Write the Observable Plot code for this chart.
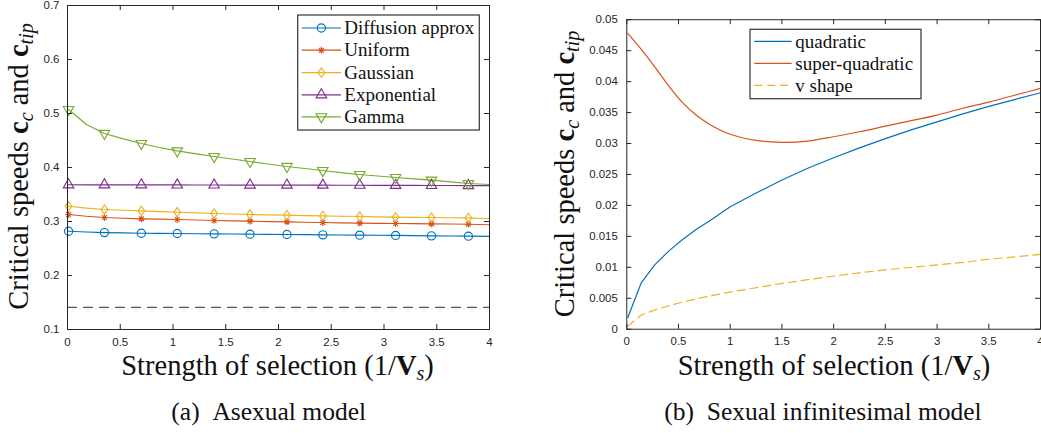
<!DOCTYPE html>
<html>
<head>
<meta charset="utf-8">
<script src="https://cdn.jsdelivr.net/npm/d3@7"></script>
<script src="https://cdn.jsdelivr.net/npm/@observablehq/plot@0.6"></script>
<style>
  html, body { margin: 0; padding: 0; background: #fff; overflow: hidden; }
  #fig { position: relative; width: 1041px; height: 433px; overflow: hidden; background: #fff; }
  .panel { position: absolute; top: 0; }
  .panel svg { overflow: visible; background: transparent; }
  #overlay { position: absolute; left: 0; top: 0; pointer-events: none; overflow: visible; }
</style>
</head>
<body>
<div id="fig"></div>
<script>
// ---------- Panel (a): asexual model ----------
const xTicks = [0, 0.5, 1, 1.5, 2, 2.5, 3, 3.5, 4];
const yTicksA = [0.1, 0.2, 0.3, 0.4, 0.5, 0.6, 0.7];

// strength of selection grid (markers sit on every other point)
const xsA = [0.01, 0.18, 0.35, 0.53, 0.70, 0.87, 1.04, 1.22, 1.39, 1.56, 1.73, 1.90,
             2.08, 2.25, 2.42, 2.59, 2.77, 2.94, 3.11, 3.28, 3.45, 3.63, 3.80, 4.00];

const diffusion = [0.2820, 0.2806, 0.2795, 0.2789, 0.2783, 0.2780, 0.2777, 0.2774, 0.2771, 0.2768,
                   0.2765, 0.2762, 0.2759, 0.2756, 0.2753, 0.2750, 0.2747, 0.2745, 0.2742, 0.2738,
                   0.2734, 0.2731, 0.2728, 0.2725];
const uniform = [0.3130, 0.3098, 0.3074, 0.3060, 0.3049, 0.3043, 0.3037, 0.3028, 0.3019, 0.3012,
                 0.3006, 0.2999, 0.2993, 0.2987, 0.2981, 0.2975, 0.2969, 0.2966, 0.2963, 0.2960,
                 0.2956, 0.2953, 0.2950, 0.2940];
const gaussian = [0.3283, 0.3248, 0.3222, 0.3209, 0.3196, 0.3184, 0.3172, 0.3160, 0.3148, 0.3139,
                  0.3130, 0.3123, 0.3117, 0.3110, 0.3104, 0.3098, 0.3093, 0.3086, 0.3080, 0.3077,
                  0.3074, 0.3070, 0.3067, 0.3050];
const exponential = [0.3680, 0.3679, 0.3679, 0.3678, 0.3678, 0.3677, 0.3677, 0.3676, 0.3676, 0.3675,
                     0.3675, 0.3674, 0.3674, 0.3673, 0.3673, 0.3672, 0.3671, 0.3670, 0.3669, 0.3668,
                     0.3667, 0.3666, 0.3665, 0.3664];
const gamma = [0.5074, 0.4796, 0.4630, 0.4530, 0.4444, 0.4370, 0.4307, 0.4253, 0.4204, 0.4157,
               0.4111, 0.4064, 0.4019, 0.3981, 0.3944, 0.3906, 0.3870, 0.3842, 0.3815, 0.3790,
               0.3765, 0.3735, 0.3704, 0.3685];
const thresholdA = 0.141;

// marker shapes: eight-armed asterisk and a narrow diamond
const asterisk8 = {
  draw(ctx, size) {
    const r = Math.sqrt(size / Math.PI), d = r * Math.SQRT1_2;
    ctx.moveTo(-r, 0); ctx.lineTo(r, 0);
    ctx.moveTo(0, -r); ctx.lineTo(0, r);
    ctx.moveTo(-d, -d); ctx.lineTo(d, d);
    ctx.moveTo(-d, d); ctx.lineTo(d, -d);
  }
};
const diamondTall = {
  draw(ctx, size) {
    const r = Math.sqrt(size / Math.PI), w = r * 0.78, h = r * 1.08;
    ctx.moveTo(0, -h); ctx.lineTo(w, 0); ctx.lineTo(0, h); ctx.lineTo(-w, 0); ctx.closePath();
  }
};

const seriesA = [
  {name: "Diffusion approx", values: diffusion,   color: "#0072BD", symbol: d3.symbolCircle,   rotate: 0,   r: 4.1},
  {name: "Uniform",          values: uniform,     color: "#D95319", symbol: asterisk8,        rotate: 0,   r: 3.4},
  {name: "Gaussian",         values: gaussian,    color: "#EDB120", symbol: diamondTall,      rotate: 0,   r: 4.3},
  {name: "Exponential",      values: exponential, color: "#7E2F8E", symbol: d3.symbolTriangle, rotate: 0,   r: 3.9},
  {name: "Gamma",            values: gamma,       color: "#77AC30", symbol: d3.symbolTriangle, rotate: 180, r: 3.9}
];

// ---------- Panel (b): sexual infinitesimal model ----------
const yTicksB = [0, 0.005, 0.01, 0.015, 0.02, 0.025, 0.03, 0.035, 0.04, 0.045, 0.05];
const xsB = [0.01, 0.14, 0.27, 0.41, 0.54, 0.67, 0.81, 1.00, 1.25, 1.50,
             1.75, 2.00, 2.25, 2.50, 2.75, 3.00, 3.25, 3.50, 3.75, 4.00];
const quadratic = [0.0019, 0.0075, 0.0104, 0.0127, 0.0145, 0.0161, 0.0176, 0.0198, 0.0220, 0.0241,
                   0.0260, 0.0277, 0.0293, 0.0308, 0.0322, 0.0335, 0.0348, 0.0360, 0.0371, 0.0382];
const superQuadratic = [0.0478, 0.0452, 0.0424, 0.0392, 0.0366, 0.0346, 0.0330, 0.0315, 0.0305, 0.0302,
                        0.0304, 0.0311, 0.0319, 0.0328, 0.0337, 0.0346, 0.0357, 0.0367, 0.0378, 0.0389];
const vShape = [0.0005, 0.0023, 0.0031, 0.0038, 0.0044, 0.0049, 0.0054, 0.0060, 0.0067, 0.0074,
                0.0080, 0.0086, 0.0091, 0.0096, 0.0100, 0.0104, 0.0108, 0.0113, 0.0117, 0.0121];

const seriesB = [
  {name: "quadratic",       values: quadratic,      color: "#0072BD", dashed: false, curve: "linear"},
  {name: "super-quadratic", values: superQuadratic, color: "#D95319", dashed: false, curve: "catmull-rom"},
  {name: "v shape",         values: vShape,         color: "#EDB120", dashed: true,  curve: "linear"}
];

// ---------- shared styling ----------
const axisColor = "#262626";
const tickFont = {fontFamily: "'Liberation Sans', Arial, sans-serif", fontSize: 11.5, fill: axisColor};
const serif = "Liberation Serif, serif";
const H = 385;

function boxTicks(xt, yt, innerW, innerH) {
  const len = 5;
  return [
    Plot.tickX(xt, {x: d => d, stroke: axisColor, insetTop: innerH - len}),
    Plot.tickX(xt, {x: d => d, stroke: axisColor, insetBottom: innerH - len}),
    Plot.tickY(yt, {y: d => d, stroke: axisColor, insetRight: innerW - len}),
    Plot.tickY(yt, {y: d => d, stroke: axisColor, insetLeft: innerW - len})
  ];
}

// ---------- draw panel (a) ----------
const mA = {left: 67, right: 31, top: 5, bottom: 56};
const WA = 520;
const rowsA = seriesA.flatMap(s => xsA.map((x, i) => ({series: s.name, i, x, y: s.values[i]})));
const plotA = Plot.plot({
  width: WA, height: H,
  marginLeft: mA.left, marginRight: mA.right, marginTop: mA.top, marginBottom: mA.bottom,
  x: {domain: [0, 4]},
  y: {domain: [0.1, 0.7]},
  style: {background: "transparent", overflow: "visible"},
  marks: [
    Plot.ruleY([thresholdA], {stroke: "#555", strokeWidth: 1.1, strokeDasharray: "10,6"}),
    ...seriesA.map(s => Plot.line(rowsA.filter(d => d.series === s.name),
      {x: "x", y: "y", stroke: s.color, strokeWidth: 1.15})),
    ...seriesA.map(s => Plot.dot(rowsA.filter(d => d.series === s.name && d.i % 2 === 0 && d.i < 23),
      {x: "x", y: "y", symbol: s.symbol, rotate: s.rotate, r: s.r, stroke: s.color, strokeWidth: 1.15, fill: "none"})),
    Plot.frame({stroke: axisColor, strokeWidth: 1}),
    ...boxTicks(xTicks, yTicksA, WA - mA.left - mA.right, H - mA.top - mA.bottom),
    Plot.axisX(xTicks, {tickSize: 0, tickPadding: 8, label: null, tickFormat: d => String(d), ...tickFont}),
    Plot.axisY(yTicksA, {tickSize: 0, tickPadding: 8, label: null, tickFormat: d => d.toFixed(1), ...tickFont})
  ]
});

// ---------- draw panel (b) ----------
const mB = {left: 106.7, right: 1, top: 19.3, bottom: 55};
const WB = 523;
const rowsB = seriesB.flatMap(s => xsB.map((x, i) => ({series: s.name, x, y: s.values[i]})));
const plotB = Plot.plot({
  width: WB, height: H,
  marginLeft: mB.left, marginRight: mB.right, marginTop: mB.top, marginBottom: mB.bottom,
  x: {domain: [0, 4]},
  y: {domain: [0, 0.05]},
  style: {background: "transparent", overflow: "visible"},
  marks: [
    ...seriesB.map(s => Plot.line(rowsB.filter(d => d.series === s.name),
      {x: "x", y: "y", stroke: s.color, strokeWidth: 1.2, curve: s.curve,
       strokeDasharray: s.dashed ? "8,5" : null})),
    Plot.frame({stroke: axisColor, strokeWidth: 1}),
    ...boxTicks(xTicks, yTicksB, WB - mB.left - mB.right, H - mB.top - mB.bottom),
    Plot.axisX(xTicks, {tickSize: 0, tickPadding: 8, label: null, tickFormat: d => String(d), ...tickFont}),
    Plot.axisY(yTicksB, {tickSize: 0, tickPadding: 9, label: null, tickFormat: d => String(d), ...tickFont})
  ]
});

const fig = document.getElementById("fig");
const pa = document.createElement("div"); pa.className = "panel"; pa.style.left = "0px"; pa.appendChild(plotA);
const pb = document.createElement("div"); pb.className = "panel"; pb.style.left = "520px"; pb.appendChild(plotB);
fig.appendChild(pa); fig.appendChild(pb);

// ---------- axis titles, captions and legends ----------
const svg = d3.select(fig).append("svg").attr("id", "overlay")
  .attr("width", 1041).attr("height", 433).attr("fill", "#111");

function txt(sel) { return sel.append("text").attr("font-family", serif); }

function yTitle(x, y) {
  const t = txt(svg).attr("transform", `translate(${x},${y}) rotate(-90)`)
    .attr("text-anchor", "middle").attr("font-size", 28.5);
  t.append("tspan").text("Critical speeds ");
  t.append("tspan").attr("font-weight", "bold").text("c");
  t.append("tspan").attr("font-style", "italic").attr("font-size", 20).attr("dy", 5).text("c");
  t.append("tspan").attr("dy", -5).text(" and ");
  t.append("tspan").attr("font-weight", "bold").text("c");
  t.append("tspan").attr("font-style", "italic").attr("font-size", 20).attr("dy", 5).text("tip");
}
function xTitle(x, y) {
  const t = txt(svg).attr("x", x).attr("y", y)
    .attr("text-anchor", "middle").attr("font-size", 28.5);
  t.append("tspan").text("Strength of selection (1/");
  t.append("tspan").attr("font-weight", "bold").text("V");
  t.append("tspan").attr("font-style", "italic").attr("font-size", 20).attr("dy", 5).text("s");
  t.append("tspan").attr("dy", -5).text(")");
}
yTitle(28, 166.5);
yTitle(573.5, 174);
xTitle(277.5, 375);
xTitle(834, 375);
txt(svg).attr("x", 268.7).attr("y", 420).attr("text-anchor", "middle")
  .attr("font-size", 25.5).text("(a)\u2002Asexual model");
txt(svg).attr("x", 823).attr("y", 420).attr("text-anchor", "middle")
  .attr("font-size", 25.5).text("(b)\u2002Sexual infinitesimal model");

function legend(x, y, w, h, rowY, lineX0, lineX1, textX, entries) {
  const g = svg.append("g");
  g.append("rect").attr("x", x).attr("y", y).attr("width", w).attr("height", h)
    .attr("fill", "#fff").attr("stroke", "#333").attr("stroke-width", 1.2);
  entries.forEach((s, k) => {
    const cy = rowY[k];
    g.append("line").attr("x1", lineX0).attr("x2", lineX1).attr("y1", cy).attr("y2", cy)
      .attr("stroke", s.color).attr("stroke-width", 1.2)
      .attr("stroke-dasharray", s.dashed ? "8,5" : null);
    if (s.symbol) {
      g.append("path").attr("d", d3.symbol(s.symbol, s.r * s.r * Math.PI)())
        .attr("transform", `translate(${(lineX0 + lineX1) / 2},${cy}) rotate(${s.rotate})`)
        .attr("fill", "none").attr("stroke", s.color).attr("stroke-width", 1.15);
    }
    txt(g).attr("x", textX).attr("y", cy).attr("dy", "0.33em")
      .attr("font-size", 19).text(s.name);
  });
}
legend(297.7, 15, 181.6, 115, [28, 50.2, 72.6, 94.8, 116.8], 301.7, 341, 344.3, seriesA);
legend(750, 29.3, 171, 69.4, [41.3, 63.3, 85.3], 754.3, 791.7, 795.3, seriesB);
</script>
</body>
</html>
